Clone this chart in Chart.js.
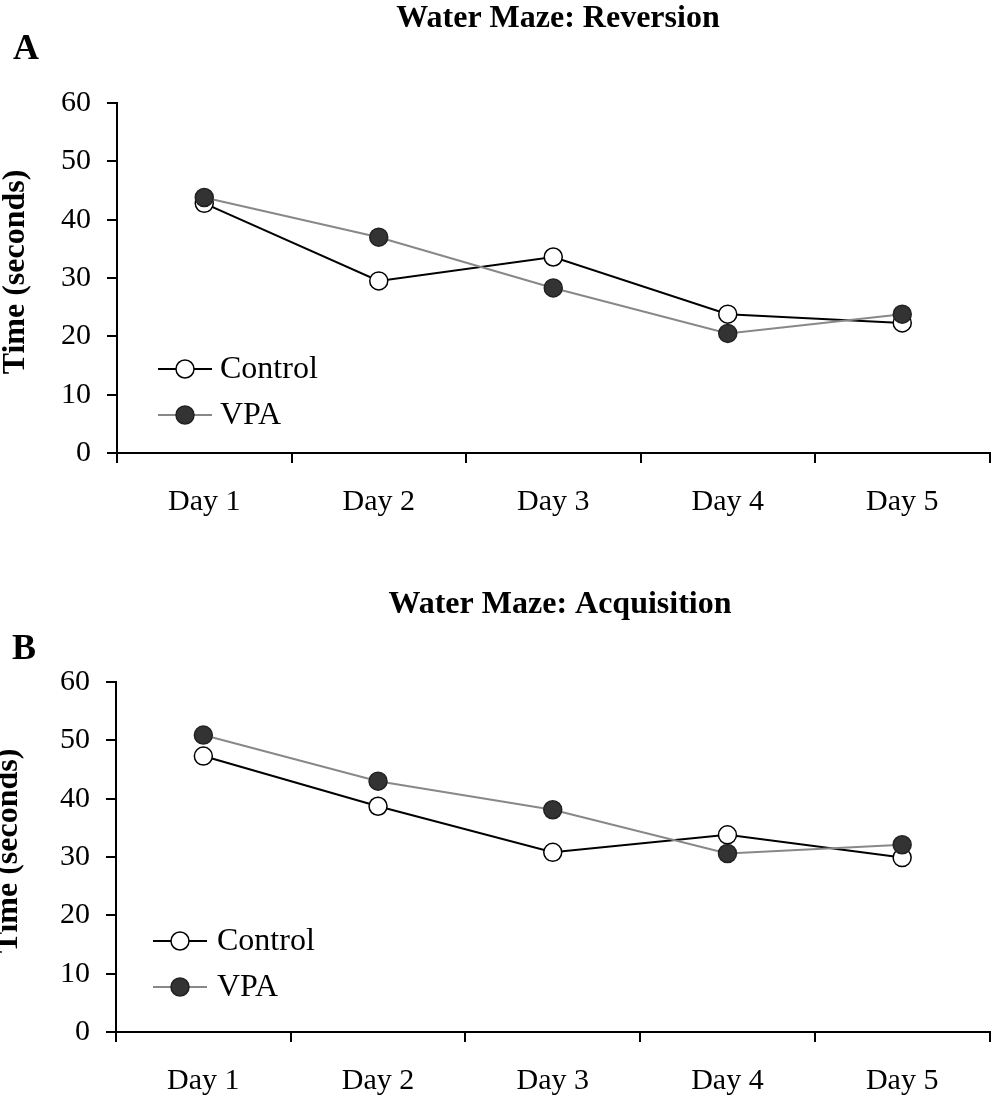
<!DOCTYPE html>
<html>
<head>
  <meta charset="UTF-8">
  <title>Water Maze</title>
  <script src="https://cdn.jsdelivr.net/npm/chart.js"></script>
  <style>
    body, html {
      margin: 0;
      padding: 0;
      background: #fff;
    }
    canvas {
      display: block;
    }
  </style>
</head>
<body>
  <canvas id="reversion" width="1000" height="560"></canvas>
  <canvas id="acquisition" width="1000" height="539"></canvas>

  <script>
    const days = ["Day 1", "Day 2", "Day 3", "Day 4", "Day 5"];
    const yMin = 0, yMax = 60, yStep = 10;

    // panel A - reversion
    const reversionControl = [42.8, 29.5, 33.6, 23.8, 22.3];
    const reversionVPA = [43.8, 37.0, 28.3, 20.5, 23.8];

    // panel B - acquisition
    const acquisitionControl = [47.3, 38.7, 30.8, 33.8, 29.9];
    const acquisitionVPA = [50.9, 43.0, 38.1, 30.6, 32.1];

    const serif = '"Liberation Serif", "Times New Roman", serif';

    // titles, panel letter, y title and the small legend inside the plot
    const decor = {
      id: 'decor',
      afterDraw(chart, args, o) {
        const c = chart.ctx;
        const a = chart.chartArea;
        c.save();
        c.fillStyle = '#000';
        c.textBaseline = 'alphabetic';
        c.textAlign = 'center';
        c.font = 'bold 32px ' + serif;
        c.fillText(o.title, o.titleX, o.titleY);
        c.textAlign = 'left';
        c.font = 'bold 36px ' + serif;
        c.fillText(o.panel, o.panelX, o.panelY);
        c.translate(o.yTitleX, o.yTitleY);
        c.rotate(-Math.PI / 2);
        c.textAlign = 'center';
        c.font = 'bold 32px ' + serif;
        c.fillText('Time (seconds)', 0, 0);
        c.restore();

        c.save();
        chart.data.datasets.forEach((ds, i) => {
          const y = a.bottom - o.legendRows[i];
          const x0 = a.left + o.legendLine[0];
          const x1 = a.left + o.legendLine[1];
          c.strokeStyle = ds.borderColor;
          c.lineWidth = ds.borderWidth;
          c.beginPath();
          c.moveTo(x0, y);
          c.lineTo(x1, y);
          c.stroke();
          c.beginPath();
          c.arc((x0 + x1) / 2, y, ds.pointRadius, 0, Math.PI * 2);
          c.fillStyle = ds.pointBackgroundColor;
          c.fill();
          c.lineWidth = ds.pointBorderWidth;
          c.strokeStyle = ds.pointBorderColor;
          c.stroke();
          c.fillStyle = '#000';
          c.font = '32px ' + serif;
          c.textBaseline = 'middle';
          c.textAlign = 'left';
          c.fillText(ds.label, a.left + o.legendText, y + 1);
        });
        c.restore();
      }
    };

    function makeChart(id, control, vpa, o) {
      const ctx = document.getElementById(id).getContext('2d');
      return new Chart(ctx, {
        type: 'line',
        data: {
          labels: days,
          datasets: [
            {
              label: 'Control', data: control, order: 1,
              borderColor: '#000', borderWidth: 2,
              pointRadius: 9, pointBorderWidth: 1.5,
              pointBackgroundColor: '#fff', pointBorderColor: '#000'
            },
            {
              label: 'VPA', data: vpa, order: 0,
              borderColor: '#888', borderWidth: 2,
              pointRadius: 9, pointBorderWidth: 1.5,
              pointBackgroundColor: '#333', pointBorderColor: '#222'
            }
          ]
        },
        options: {
          responsive: false,
          animation: false,
          layout: { padding: { top: o.top, right: o.right, left: 0, bottom: 0 } },
          plugins: {
            legend: { display: false },
            tooltip: { enabled: false },
            decor: o
          },
          elements: { line: { tension: 0 } },
          scales: {
            x: {
              offset: true,
              afterFit: s => { s.height = o.xHeight; },
              border: { color: '#000', width: 2 },
              grid: { offset: true, drawOnChartArea: false, drawTicks: true, tickLength: 10, color: '#000', lineWidth: 2 },
              ticks: { color: '#000', padding: 21, maxRotation: 0, font: { family: serif, size: 30 } }
            },
            y: {
              min: yMin, max: yMax,
              afterFit: s => { s.width = o.yWidth; },
              border: { color: '#000', width: 2 },
              grid: { drawOnChartArea: false, drawTicks: true, tickLength: 10, color: '#000', lineWidth: 2 },
              ticks: { stepSize: yStep, color: '#000', padding: 16, font: { family: serif, size: 30 } }
            }
          }
        },
        plugins: [decor]
      });
    }

    makeChart('reversion', reversionControl, reversionVPA, {
      top: 103, right: 3, yWidth: 117, xHeight: 107,
      title: 'Water Maze: Reversion', titleX: 558, titleY: 27,
      panel: 'A', panelX: 13, panelY: 59,
      yTitleX: 24, yTitleY: 272,
      legendRows: [84, 38], legendLine: [41, 95], legendText: 103
    });

    makeChart('acquisition', acquisitionControl, acquisitionVPA, {
      top: 122, right: 4, yWidth: 116, xHeight: 67,
      title: 'Water Maze: Acquisition', titleX: 560, titleY: 53,
      panel: 'B', panelX: 12, panelY: 99,
      yTitleX: 17, yTitleY: 291,
      legendRows: [91, 45], legendLine: [37, 91], legendText: 101
    });
  </script>
</body>
</html>
